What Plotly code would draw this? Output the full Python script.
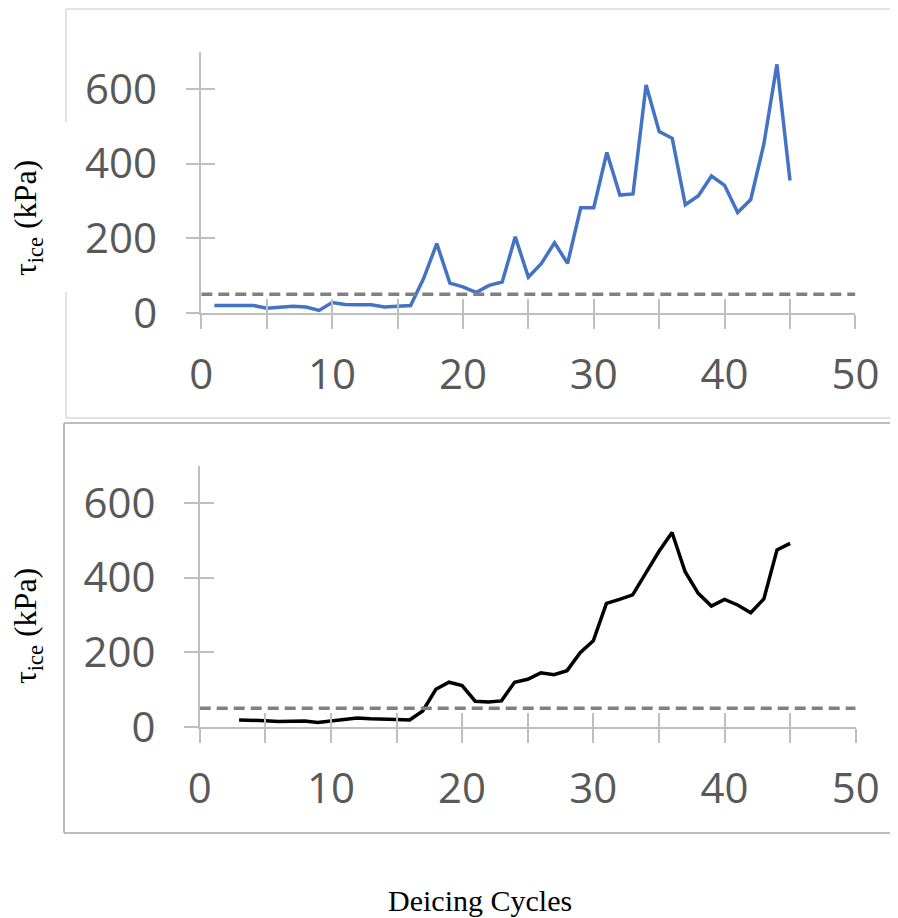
import plotly.graph_objects as go

# ---------------- data ----------------
cycles_top = list(range(1, 46))
tau_top = [20, 20, 19, 20, 13, 16, 18, 16, 7, 28, 23, 22, 22, 16, 19, 20,
           93, 186, 80, 70, 55, 74, 83, 204, 96,
           133, 188, 133, 282, 282, 430, 316, 319, 611, 486, 468, 290, 314,
           367, 342, 269, 304, 452, 666, 355]

cycles_bottom = list(range(3, 46))
tau_bottom = [19, 19, 17, 15, 15, 16, 12, 16, 19, 24, 22, 20, 20, 19,
              43, 101, 120, 111, 69, 67, 70, 120, 128,
              145, 140, 151, 199, 231, 331, 342, 354, 412, 470, 521, 416, 358,
              324, 342, 327, 306, 343, 474, 492]

threshold_x = [0, 50]
threshold_y = [50, 50]

x_tick_all = [0, 5, 10, 15, 20, 25, 30, 35, 40, 45, 50]
y_tickvals = [0, 200, 400, 600]
y_title = "τ<sub>ice</sub> (kPa)"
x_title = "Deicing Cycles"

# ---------------- layout helpers ----------------
OFF = 8                      # page body margin of the browser
W, H = 898 - OFF, 918 - OFF  # figure size so that it fills the window


def px_x(p):
    return (p - OFF) / W


def px_y(p):
    return 1 - (p - OFF) / H


AXIS_GREY = "#bfbfbf"
LABEL_GREY = "#595959"
TICK_FONT = dict(family="Open Sans, Lato, sans-serif", size=42, color=LABEL_GREY)
SERIF = "Liberation Serif, Times New Roman, serif"
DASH = dict(color="#808080", width=3.5, dash="11px,6px")

fig = go.Figure()

fig.add_trace(go.Scatter(x=cycles_top, y=tau_top, mode="lines",
                         line=dict(color="#4472C4", width=3.5),
                         xaxis="x", yaxis="y", showlegend=False))
fig.add_trace(go.Scatter(x=threshold_x, y=threshold_y, mode="lines", line=DASH,
                         xaxis="x", yaxis="y", showlegend=False))
fig.add_trace(go.Scatter(x=cycles_bottom, y=tau_bottom, mode="lines",
                         line=dict(color="#000000", width=3.5),
                         xaxis="x2", yaxis="y2", showlegend=False))
fig.add_trace(go.Scatter(x=threshold_x, y=threshold_y, mode="lines", line=DASH,
                         xaxis="x2", yaxis="y2", showlegend=False))
# empty traces so the overlay (inward tick) axes are drawn
fig.add_trace(go.Scatter(x=[], y=[], xaxis="x3", yaxis="y3", showlegend=False))
fig.add_trace(go.Scatter(x=[], y=[], xaxis="x4", yaxis="y4", showlegend=False))

dom_top_x = [px_x(201.3), px_x(855.4)]
dom_top_y = [px_y(313), px_y(51.7)]
dom_bot_x = [px_x(199.7), px_x(855.7)]
dom_bot_y = [px_y(727), px_y(465.7)]


def main_x(domain, anchor):
    return dict(domain=domain, anchor=anchor, range=[0, 50], showgrid=False,
                zeroline=False, showline=True, linecolor=AXIS_GREY, linewidth=1.5,
                ticks="outside", ticklen=14, tickwidth=1.5, tickcolor=AXIS_GREY,
                tick0=0, dtick=10,
                minor=dict(dtick=5, ticks="outside", ticklen=14, tickwidth=1.5,
                           tickcolor=AXIS_GREY, showgrid=False),
                tickfont=TICK_FONT, ticklabelstandoff=10)


def main_y(domain, anchor):
    return dict(domain=domain, anchor=anchor, range=[0, 700], showgrid=False,
                zeroline=False, showline=True, linecolor=AXIS_GREY, linewidth=1.5,
                ticks="outside", ticklen=14, tickwidth=1.5, tickcolor=AXIS_GREY,
                tickmode="array", tickvals=y_tickvals,
                tickfont=TICK_FONT, ticklabelstandoff=20)


def inner_x(over, anchor):
    return dict(overlaying=over, anchor=anchor, range=[0, 50], showgrid=False,
                zeroline=False, showline=False, ticks="inside", ticklen=14,
                tickwidth=1.5, tickcolor=AXIS_GREY, tickmode="array",
                tickvals=x_tick_all, showticklabels=False)


def inner_y(over, anchor):
    return dict(overlaying=over, anchor=anchor, range=[0, 700], showgrid=False,
                zeroline=False, showline=False, ticks="inside", ticklen=14,
                tickwidth=1.5, tickcolor=AXIS_GREY, tickmode="array",
                tickvals=y_tickvals, showticklabels=False)


fig.update_layout(
    width=W, height=H, autosize=False,
    margin=dict(l=0, r=0, t=0, b=0),
    template="none",
    paper_bgcolor="white", plot_bgcolor="rgba(0,0,0,0)",
    showlegend=False,
    xaxis=main_x(dom_top_x, "y"),
    yaxis=main_y(dom_top_y, "x"),
    xaxis2=main_x(dom_bot_x, "y2"),
    yaxis2=main_y(dom_bot_y, "x2"),
    xaxis3=inner_x("x", "y"),
    yaxis3=inner_y("y", "x"),
    xaxis4=inner_x("x2", "y2"),
    yaxis4=inner_y("y2", "x2"),
)

# panel frames
LIGHT = dict(color="#d9d9d9", width=1.5)
DARK = dict(color="#a6a6a6", width=1.5)
shapes = [
    dict(type="line", xref="paper", yref="paper", x0=px_x(66), x1=1.02,
         y0=px_y(9), y1=px_y(9), line=LIGHT),
    dict(type="line", xref="paper", yref="paper", x0=px_x(66), x1=1.02,
         y0=px_y(418), y1=px_y(418), line=LIGHT),
    dict(type="line", xref="paper", yref="paper", x0=px_x(66), x1=px_x(66),
         y0=px_y(9), y1=px_y(122), line=LIGHT),
    dict(type="line", xref="paper", yref="paper", x0=px_x(66), x1=px_x(66),
         y0=px_y(292), y1=px_y(418), line=LIGHT),
    dict(type="line", xref="paper", yref="paper", x0=px_x(64), x1=1.02,
         y0=px_y(423), y1=px_y(423), line=DARK),
    dict(type="line", xref="paper", yref="paper", x0=px_x(64), x1=1.02,
         y0=px_y(833), y1=px_y(833), line=DARK),
    dict(type="line", xref="paper", yref="paper", x0=px_x(64), x1=px_x(64),
         y0=px_y(423), y1=px_y(833), line=DARK),
]
fig.update_layout(shapes=shapes)

annotations = [
    dict(text=y_title, x=px_x(27), y=px_y(218), xref="paper", yref="paper",
         showarrow=False, textangle=-90, xanchor="center", yanchor="middle",
         font=dict(family=SERIF, size=32, color="black")),
    dict(text=y_title, x=px_x(27), y=px_y(626), xref="paper", yref="paper",
         showarrow=False, textangle=-90, xanchor="center", yanchor="middle",
         font=dict(family=SERIF, size=32, color="black")),
    dict(text=x_title, x=px_x(480), y=px_y(900), xref="paper", yref="paper",
         showarrow=False, xanchor="center", yanchor="middle",
         font=dict(family=SERIF, size=30, color="black")),
]
fig.update_layout(annotations=annotations)

fig.write_html("out.html")
